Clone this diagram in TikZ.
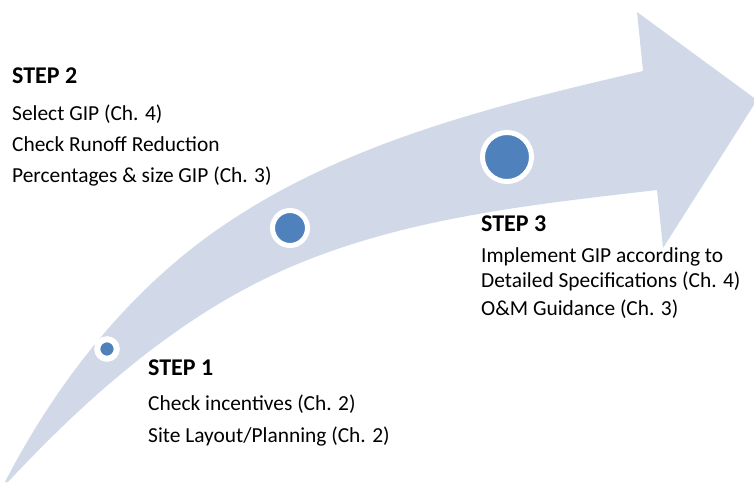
\documentclass[tikz,border=0pt]{standalone}
\usepackage{fontspec}
\setmainfont{Carlito}
\definecolor{bandc}{HTML}{D1D9E8}
\definecolor{dotc}{HTML}{4F81BD}
\begin{document}
\begin{tikzpicture}[x=1pt,y=-1pt,
  dot/.style={circle,fill=dotc,draw=white,inner sep=0pt},
  head/.style={anchor=base west,inner sep=0pt,font=\fontsize{24}{28}\selectfont\bfseries},
  body/.style={anchor=base west,inner sep=0pt,font=\fontsize{21.4}{25}\selectfont}]
\useasboundingbox (0,0) rectangle (754,482);
\fill[bandc] (5,482) .. controls (58,379) and (134,284) .. (230,221)
  .. controls (352,140) and (501,104) .. (643,71)
  -- (637,12) -- (757,100) -- (663,248) -- (657,190)
  .. controls (537,204) and (412,217) .. (300,263)
  .. controls (187,309) and (91,393) .. (8,482)
  -- cycle;
\node[dot,minimum size=19.5pt,line width=6pt] (d1) at (107,349) {};
\node[dot,minimum size=35pt,line width=5pt] (d2) at (290,228) {};
\node[dot,minimum size=49pt,line width=5pt] (d3) at (507,157) {};
\node[head] (s2) at (12,83) {STEP 2};
\node[body] (s2a) at (12,120) {Select GIP (Ch. 4)};
\node[body] (s2b) at (12,151) {Check Runoff Reduction};
\node[body] (s2c) at (12,182) {Percentages \& size GIP (Ch. 3)};
\node[head] (s1) at (148,375) {STEP 1};
\node[body] (s1a) at (148,410) {Check incentives (Ch. 2)};
\node[body] (s1b) at (148,442) {Site Layout/Planning (Ch. 2)};
\node[head] (s3) at (481,231) {STEP 3};
\node[body] (s3a) at (481,262) {Implement GIP according to};
\node[body] (s3b) at (481,287) {Detailed Specifications (Ch. 4)};
\node[body] (s3c) at (481,315) {O\&M Guidance (Ch. 3)};
\end{tikzpicture}
\end{document}
